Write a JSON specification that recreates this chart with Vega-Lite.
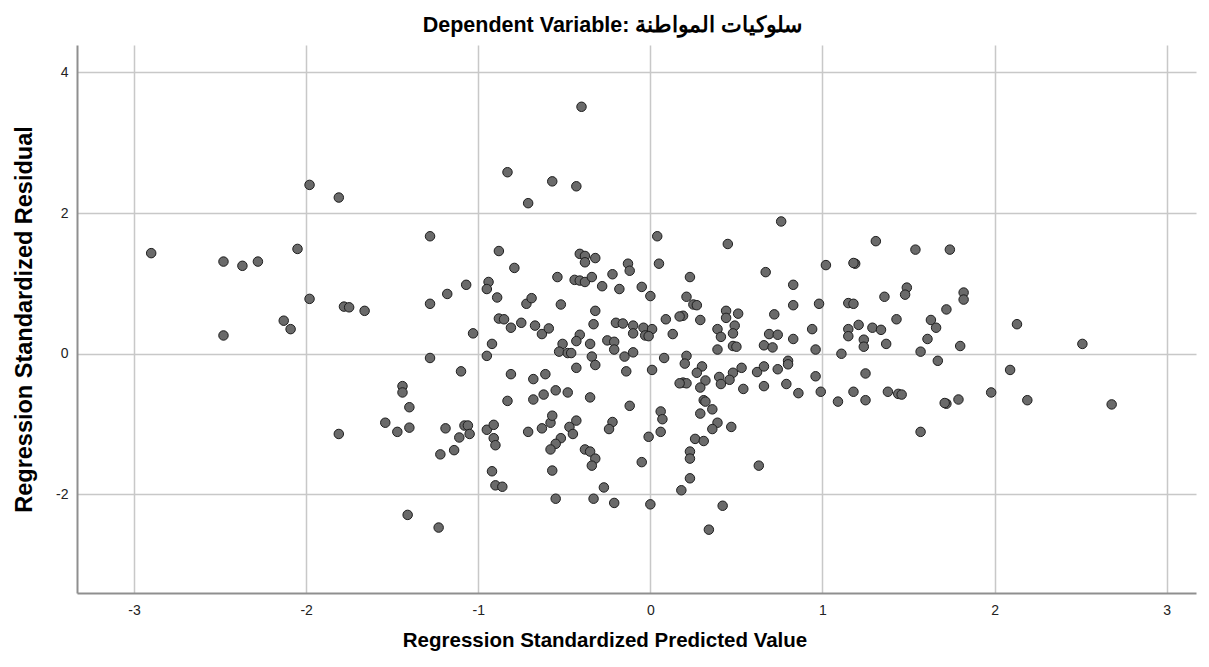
{
  "$schema": "https://vega.github.io/schema/vega-lite/v6.json",
  "autosize": {"type": "none"},
  "padding": {"left": 77, "top": 45, "right": 13, "bottom": 74},
  "width": 1119,
  "height": 548,
  "background": "white",
  "title": {
    "text": "Dependent Variable: سلوكيات المواطنة",
    "font": "Liberation Sans",
    "fontSize": 21.5,
    "fontWeight": "bold",
    "color": "#000000",
    "anchor": "middle",
    "dx": -24,
    "dy": 23,
    "offset": 15,
    "baseline": "alphabetic"
  },
  "data": {
    "values": [
      {"x": -2.90, "y": 1.43}, {"x": -2.48, "y": 1.31}, {"x": -2.37, "y": 1.25}, {"x": -2.28, "y": 1.31},
      {"x": -2.48, "y": 0.26}, {"x": -2.13, "y": 0.47}, {"x": -2.09, "y": 0.35}, {"x": -2.05, "y": 1.49},
      {"x": -1.98, "y": 2.40}, {"x": -1.81, "y": 2.22}, {"x": -1.98, "y": 0.78}, {"x": -1.78, "y": 0.67},
      {"x": -1.75, "y": 0.66}, {"x": -1.66, "y": 0.61}, {"x": -1.28, "y": 1.67}, {"x": -1.28, "y": 0.71},
      {"x": -1.18, "y": 0.85}, {"x": -1.07, "y": 0.98}, {"x": -1.03, "y": 0.29}, {"x": -0.40, "y": 3.51},
      {"x": -0.83, "y": 2.58}, {"x": -0.57, "y": 2.45}, {"x": -0.43, "y": 2.38}, {"x": -0.71, "y": 2.14},
      {"x": 0.04, "y": 1.67}, {"x": 0.05, "y": 1.28}, {"x": -0.88, "y": 1.46}, {"x": -0.79, "y": 1.22},
      {"x": -0.41, "y": 1.42}, {"x": -0.38, "y": 1.39}, {"x": -0.32, "y": 1.36}, {"x": -0.38, "y": 1.30},
      {"x": -0.13, "y": 1.28}, {"x": -0.12, "y": 1.18}, {"x": -0.54, "y": 1.09}, {"x": -0.44, "y": 1.05},
      {"x": -0.41, "y": 1.04}, {"x": -0.38, "y": 1.02}, {"x": -0.34, "y": 1.09}, {"x": -0.22, "y": 1.13},
      {"x": -0.28, "y": 0.96}, {"x": -0.18, "y": 0.92}, {"x": -0.05, "y": 0.95}, {"x": 0.00, "y": 0.82},
      {"x": -0.94, "y": 1.02}, {"x": -0.95, "y": 0.92}, {"x": -0.89, "y": 0.80}, {"x": -0.72, "y": 0.71},
      {"x": -0.69, "y": 0.79}, {"x": -0.52, "y": 0.70}, {"x": -0.32, "y": 0.61}, {"x": -0.88, "y": 0.50},
      {"x": -0.85, "y": 0.49}, {"x": -0.81, "y": 0.37}, {"x": -0.75, "y": 0.44}, {"x": -0.67, "y": 0.40},
      {"x": -0.63, "y": 0.28}, {"x": -0.59, "y": 0.36}, {"x": -0.41, "y": 0.27}, {"x": -0.43, "y": 0.18},
      {"x": -0.33, "y": 0.42}, {"x": -0.20, "y": 0.44}, {"x": -0.16, "y": 0.43}, {"x": -0.10, "y": 0.40},
      {"x": -0.10, "y": 0.29}, {"x": -0.04, "y": 0.37}, {"x": 0.01, "y": 0.35}, {"x": -0.03, "y": 0.26},
      {"x": -0.01, "y": 0.25}, {"x": -0.92, "y": 0.14}, {"x": -0.51, "y": 0.14}, {"x": -0.35, "y": 0.14},
      {"x": -0.25, "y": 0.19}, {"x": -0.21, "y": 0.17}, {"x": -0.53, "y": 0.03}, {"x": -0.48, "y": 0.01},
      {"x": -0.46, "y": 0.01}, {"x": -0.21, "y": 0.06}, {"x": -0.15, "y": -0.04}, {"x": -0.10, "y": 0.02},
      {"x": -0.34, "y": -0.04}, {"x": -0.95, "y": -0.03}, {"x": -0.81, "y": -0.29}, {"x": -0.68, "y": -0.36},
      {"x": -0.61, "y": -0.29}, {"x": -0.83, "y": -0.67}, {"x": -0.68, "y": -0.65}, {"x": -0.62, "y": -0.58},
      {"x": -0.55, "y": -0.52}, {"x": -0.48, "y": -0.55}, {"x": -0.35, "y": -0.62}, {"x": -0.43, "y": -0.20},
      {"x": -0.32, "y": -0.16}, {"x": -0.14, "y": -0.25}, {"x": 0.01, "y": -0.23}, {"x": -0.12, "y": -0.74},
      {"x": -0.01, "y": -1.18}, {"x": -0.05, "y": -1.54}, {"x": -0.95, "y": -1.08}, {"x": -0.91, "y": -1.01},
      {"x": -0.91, "y": -1.20}, {"x": -0.90, "y": -1.30}, {"x": -0.71, "y": -1.11}, {"x": -0.63, "y": -1.06},
      {"x": -0.58, "y": -0.98}, {"x": -0.57, "y": -0.88}, {"x": -0.47, "y": -1.04}, {"x": -0.43, "y": -0.95},
      {"x": -0.45, "y": -1.14}, {"x": -0.52, "y": -1.20}, {"x": -0.55, "y": -1.28}, {"x": -0.58, "y": -1.36},
      {"x": -0.38, "y": -1.36}, {"x": -0.35, "y": -1.39}, {"x": -0.32, "y": -1.49}, {"x": -0.34, "y": -1.59},
      {"x": -0.22, "y": -0.97}, {"x": -0.24, "y": -1.07}, {"x": -0.57, "y": -1.66}, {"x": -0.92, "y": -1.67},
      {"x": -0.90, "y": -1.87}, {"x": -0.86, "y": -1.89}, {"x": -0.27, "y": -1.90}, {"x": -0.55, "y": -2.06},
      {"x": -0.33, "y": -2.06}, {"x": -0.21, "y": -2.12}, {"x": 0.00, "y": -2.14}, {"x": 0.06, "y": -0.82},
      {"x": 0.07, "y": -0.93}, {"x": 0.06, "y": -1.11}, {"x": -1.28, "y": -0.06}, {"x": -1.10, "y": -0.25},
      {"x": -1.44, "y": -0.46}, {"x": -1.44, "y": -0.55}, {"x": -1.40, "y": -0.76}, {"x": -1.54, "y": -0.98},
      {"x": -1.47, "y": -1.11}, {"x": -1.40, "y": -1.05}, {"x": -1.81, "y": -1.14}, {"x": -1.19, "y": -1.06},
      {"x": -1.08, "y": -1.02}, {"x": -1.06, "y": -1.02}, {"x": -1.05, "y": -1.14}, {"x": -1.11, "y": -1.19},
      {"x": -1.14, "y": -1.37}, {"x": -1.22, "y": -1.43}, {"x": -1.41, "y": -2.29}, {"x": -1.23, "y": -2.47},
      {"x": 0.76, "y": 1.88}, {"x": 0.45, "y": 1.56}, {"x": 0.23, "y": 1.09}, {"x": 0.67, "y": 1.16},
      {"x": 0.83, "y": 0.98}, {"x": 0.21, "y": 0.81}, {"x": 0.25, "y": 0.70}, {"x": 0.27, "y": 0.69},
      {"x": 0.83, "y": 0.69}, {"x": 0.98, "y": 0.71}, {"x": 0.09, "y": 0.49}, {"x": 0.19, "y": 0.54},
      {"x": 0.29, "y": 0.48}, {"x": 0.44, "y": 0.61}, {"x": 0.44, "y": 0.51}, {"x": 0.51, "y": 0.57},
      {"x": 0.72, "y": 0.56}, {"x": 0.13, "y": 0.28}, {"x": 0.17, "y": 0.53}, {"x": 0.39, "y": 0.35},
      {"x": 0.41, "y": 0.24}, {"x": 0.49, "y": 0.40}, {"x": 0.48, "y": 0.29}, {"x": 0.69, "y": 0.28},
      {"x": 0.74, "y": 0.27}, {"x": 0.94, "y": 0.35}, {"x": 0.83, "y": 0.21}, {"x": 0.66, "y": 0.12},
      {"x": 0.71, "y": 0.09}, {"x": 0.48, "y": 0.11}, {"x": 0.50, "y": 0.10}, {"x": 0.39, "y": 0.06},
      {"x": 0.96, "y": 0.06}, {"x": 0.08, "y": -0.06}, {"x": 0.21, "y": -0.03}, {"x": 0.80, "y": -0.10},
      {"x": 0.20, "y": -0.14}, {"x": 0.30, "y": -0.18}, {"x": 0.27, "y": -0.27}, {"x": 0.40, "y": -0.33},
      {"x": 0.48, "y": -0.27}, {"x": 0.53, "y": -0.20}, {"x": 0.46, "y": -0.37}, {"x": 0.41, "y": -0.43},
      {"x": 0.32, "y": -0.38}, {"x": 0.19, "y": -0.41}, {"x": 0.21, "y": -0.42}, {"x": 0.29, "y": -0.48},
      {"x": 0.62, "y": -0.26}, {"x": 0.66, "y": -0.18}, {"x": 0.74, "y": -0.22}, {"x": 0.80, "y": -0.15},
      {"x": 0.96, "y": -0.32}, {"x": 0.66, "y": -0.46}, {"x": 0.54, "y": -0.50}, {"x": 0.79, "y": -0.43},
      {"x": 0.86, "y": -0.56}, {"x": 0.99, "y": -0.54}, {"x": 1.09, "y": -0.68}, {"x": 0.31, "y": -0.66},
      {"x": 0.32, "y": -0.68}, {"x": 0.36, "y": -0.79}, {"x": 0.29, "y": -0.85}, {"x": 0.39, "y": -0.98},
      {"x": 0.36, "y": -1.07}, {"x": 0.47, "y": -1.04}, {"x": 0.26, "y": -1.21}, {"x": 0.31, "y": -1.24},
      {"x": 0.23, "y": -1.39}, {"x": 0.23, "y": -1.49}, {"x": 0.63, "y": -1.59}, {"x": 0.23, "y": -1.77},
      {"x": 0.18, "y": -1.94}, {"x": 0.42, "y": -2.16}, {"x": 0.34, "y": -2.50}, {"x": 0.17, "y": -0.42},
      {"x": 1.31, "y": 1.60}, {"x": 1.54, "y": 1.48}, {"x": 1.74, "y": 1.48}, {"x": 1.19, "y": 1.28},
      {"x": 1.18, "y": 1.29}, {"x": 1.02, "y": 1.26}, {"x": 1.49, "y": 0.94}, {"x": 1.48, "y": 0.84},
      {"x": 1.36, "y": 0.81}, {"x": 1.82, "y": 0.87}, {"x": 1.82, "y": 0.77}, {"x": 1.15, "y": 0.72},
      {"x": 1.18, "y": 0.71}, {"x": 1.72, "y": 0.63}, {"x": 1.43, "y": 0.49}, {"x": 1.63, "y": 0.48},
      {"x": 1.66, "y": 0.37}, {"x": 1.21, "y": 0.41}, {"x": 1.15, "y": 0.35}, {"x": 1.15, "y": 0.25},
      {"x": 1.29, "y": 0.37}, {"x": 1.34, "y": 0.34}, {"x": 1.24, "y": 0.20}, {"x": 1.24, "y": 0.10},
      {"x": 1.37, "y": 0.14}, {"x": 1.61, "y": 0.21}, {"x": 1.80, "y": 0.11}, {"x": 1.57, "y": 0.03},
      {"x": 2.13, "y": 0.42}, {"x": 2.51, "y": 0.14}, {"x": 1.11, "y": 0.00}, {"x": 1.67, "y": -0.10},
      {"x": 1.25, "y": -0.28}, {"x": 1.18, "y": -0.54}, {"x": 1.25, "y": -0.66}, {"x": 1.38, "y": -0.54},
      {"x": 1.44, "y": -0.57}, {"x": 1.46, "y": -0.58}, {"x": 1.72, "y": -0.71}, {"x": 1.71, "y": -0.70},
      {"x": 1.79, "y": -0.65}, {"x": 1.57, "y": -1.11}, {"x": 1.98, "y": -0.55}, {"x": 2.09, "y": -0.23},
      {"x": 2.19, "y": -0.66}, {"x": 2.68, "y": -0.72}
    ]
  },
  "mark": {
    "type": "point",
    "shape": "circle",
    "filled": true,
    "fill": "#6a6a6a",
    "stroke": "#1e1e1e",
    "strokeWidth": 1,
    "opacity": 1,
    "fillOpacity": 1,
    "size": 90
  },
  "encoding": {
    "x": {
      "field": "x",
      "type": "quantitative",
      "scale": {"domain": [-3.331, 3.17], "nice": false, "zero": false},
      "axis": {
        "values": [-3, -2, -1, 0, 1, 2, 3],
        "labelExpr": "datum.value + ''",
        "title": "Regression Standardized Predicted Value",
        "titleX": 527.5,
        "titleY": 53,
        "titleAlign": "center",
        "titleBaseline": "alphabetic",
        "titleFontSize": 20.5,
        "labelPadding": 10
      }
    },
    "y": {
      "field": "y",
      "type": "quantitative",
      "scale": {"domain": [-3.40, 4.388], "nice": false, "zero": false},
      "axis": {
        "values": [-2, 0, 2, 4],
        "labelExpr": "datum.value + ''",
        "title": "Regression Standardized Residual",
        "titleX": -46,
        "titleY": 274,
        "titleAngle": 270,
        "titleAlign": "center",
        "titleBaseline": "alphabetic",
        "titleFontSize": 23.5,
        "labelPadding": 9
      }
    }
  },
  "config": {
    "view": {"stroke": null},
    "font": "Liberation Sans",
    "axis": {
      "grid": true,
      "gridColor": "#c8c8c8",
      "gridWidth": 1.5,
      "domainColor": "#8f8f8f",
      "domainWidth": 2,
      "ticks": false,
      "tickSize": 0,
      "labelFont": "Liberation Sans",
      "labelFontSize": 14,
      "labelColor": "#222222",
      "titleFont": "Liberation Sans",
      "titleFontWeight": "bold",
      "titleColor": "#000000"
    }
  }
}
